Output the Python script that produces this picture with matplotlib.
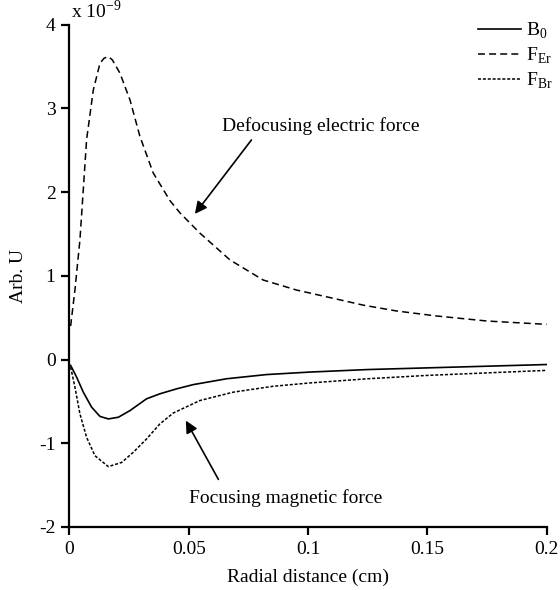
import numpy as np
import matplotlib.pyplot as plt

plt.rcParams['font.family'] = ['Liberation Serif', 'DejaVu Serif']
plt.rcParams['mathtext.fontset'] = 'custom'
plt.rcParams['mathtext.rm'] = 'Liberation Serif'
plt.rcParams['lines.scale_dashes'] = False

# values in units of 1e-9
x_er = [0.0005, 0.0023, 0.0044, 0.0058, 0.0072, 0.0100, 0.0128, 0.0145, 0.0163,
        0.0180, 0.0212, 0.0254, 0.0295, 0.0351, 0.0421, 0.0464, 0.0547, 0.0673,
        0.0812, 0.0952, 0.1092, 0.1231, 0.1371, 0.1539, 0.175, 0.200]
f_er = [0.40, 0.83, 1.43, 2.03, 2.63, 3.22, 3.54, 3.60, 3.62,
        3.58, 3.42, 3.10, 2.67, 2.23, 1.90, 1.75, 1.51, 1.19,
        0.95, 0.83, 0.74, 0.65, 0.58, 0.52, 0.46, 0.42]

x_b0 = [0.0005, 0.0030, 0.0058, 0.0093, 0.0128, 0.0163, 0.0205, 0.0254, 0.0323,
        0.0379, 0.0450, 0.0519, 0.0659, 0.0826, 0.1008, 0.125, 0.150, 0.175, 0.200]
b0 = [-0.07, -0.21, -0.39, -0.57, -0.68, -0.71, -0.69, -0.61, -0.47,
      -0.41, -0.35, -0.30, -0.23, -0.18, -0.15, -0.12, -0.10, -0.08, -0.06]

x_br = [0.0005, 0.0023, 0.0044, 0.0072, 0.0107, 0.0163, 0.0219, 0.0267, 0.0323,
        0.0379, 0.0435, 0.0547, 0.0687, 0.0854, 0.1008, 0.125, 0.150, 0.175, 0.200]
f_br = [-0.09, -0.33, -0.65, -0.93, -1.15, -1.28, -1.23, -1.11, -0.95,
        -0.77, -0.64, -0.49, -0.39, -0.32, -0.28, -0.23, -0.19, -0.16, -0.13]

xticks = [0, 0.05, 0.1, 0.15, 0.2]
xticklabels = ['0', '0.05', '0.1', '0.15', '0.2']
yticks = [-2, -1, 0, 1, 2, 3, 4]

fig = plt.figure(figsize=(5.6, 5.9), dpi=100)
ax = fig.add_axes([0.124, 0.107, 0.852, 0.851])

ax.plot(x_b0, b0, color='black', lw=1.2, label=r'B$_{0}$')
ax.plot(x_er, f_er, color='black', lw=1.1, dashes=(5, 3), label=r'F$_{\rm Er}$')
ax.plot(x_br, f_br, color='black', lw=1.1, dashes=(2.2, 1.3), label=r'F$_{\rm Br}$')

ax.set_xlim(0, 0.2)
ax.set_ylim(-2, 4)
ax.set_xticks(xticks)
ax.set_xticklabels(xticklabels)
ax.set_yticks(yticks)
ax.set_yticklabels([str(v) if v >= 0 else '-' + str(-v) for v in yticks])

for s in ['top', 'right']:
    ax.spines[s].set_visible(False)
for s in ['left', 'bottom']:
    ax.spines[s].set_linewidth(1.6)
ax.tick_params(direction='out', length=5.5, width=1.6, labelsize=14, pad=4.5)

ax.set_xlabel('Radial distance (cm)', fontsize=14, labelpad=8)
ax.set_ylabel('Arb. U', fontsize=14, labelpad=9)

ax.text(0.0005, 4.03, r'x 10$^{-9}$', fontsize=14, ha='left', va='bottom')

ax.annotate('Defocusing electric force', xy=(0.0526, 1.74), xytext=(0.1052, 2.79),
            fontsize=14, ha='center', va='center',
            arrowprops=dict(arrowstyle='-|>', color='black', lw=1.2,
                            mutation_scale=18, shrinkA=2, shrinkB=0,
                            relpos=(0.17, 0.0)))
ax.annotate('Focusing magnetic force', xy=(0.0488, -0.73), xytext=(0.0907, -1.66),
            fontsize=14, ha='center', va='center',
            arrowprops=dict(arrowstyle='-|>', color='black', lw=1.2,
                            mutation_scale=18, shrinkA=6, shrinkB=0,
                            relpos=(0.18, 1.0)))

ax.legend(loc='upper left', bbox_to_anchor=(470 / 560, 1 - 13 / 590),
          bbox_transform=fig.transFigure, frameon=False, fontsize=14,
          handlelength=2.2, labelspacing=0.25, handletextpad=0.3,
          borderaxespad=0)

fig.savefig('out.png', dpi=100)
